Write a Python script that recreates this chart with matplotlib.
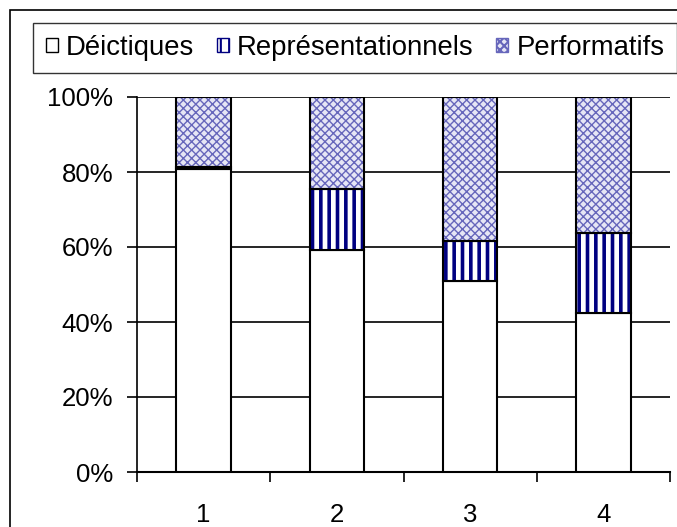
import numpy as np
import matplotlib.pyplot as plt
from matplotlib.patches import Patch, Rectangle

plt.rcParams["font.family"] = ["Liberation Sans", "DejaVu Sans"]
plt.rcParams["font.size"] = 18.5

categories = ["1", "2", "3", "4"]
deictiques = [80.8, 59.2, 51.0, 42.4]
representationnels = [0.6, 16.3, 10.5, 21.3]
performatifs = [18.6, 24.5, 38.5, 36.3]
series_names = ["Déictiques", "Représentationnels", "Performatifs"]
y_ticks = [0, 20, 40, 60, 80, 100]

fig = plt.figure(figsize=(6.77, 5.27), dpi=100)
ax = fig.add_axes([137 / 677, 55 / 527, 533 / 677, 375 / 527])

x = np.arange(len(categories))
width = 0.41

b1 = np.array(deictiques)
b2 = b1 + np.array(representationnels)

# fills first (hatch colour = edgecolor), outlines on top
ax.bar(x, deictiques, width, color="white", edgecolor="black", linewidth=1.5, zorder=3)

plt.rcParams["hatch.linewidth"] = 2.6
ax.bar(x, representationnels, width, bottom=b1, color="white",
       edgecolor="#000080", hatch="||", linewidth=0, zorder=3)
ax.bar(x, representationnels, width, bottom=b1, color="none",
       edgecolor="black", linewidth=1.5, zorder=4)

plt.rcParams["hatch.linewidth"] = 1.0
ax.bar(x, performatifs, width, bottom=b2, color="#e6e6f5",
       edgecolor="#6666bb", hatch="xxxx", linewidth=0, zorder=3)
ax.bar(x, performatifs, width, bottom=b2, color="none",
       edgecolor="black", linewidth=1.5, zorder=4)

ax.set_ylim(0, 100)
ax.set_xlim(-0.5, len(categories) - 0.5)
ax.set_yticks(y_ticks)
ax.set_yticklabels([f"{t}%" for t in y_ticks])
ax.yaxis.grid(True, color="black", linewidth=1.2, zorder=0)
ax.set_axisbelow(True)

# x ticks between categories, labels centered under bars
ax.set_xticks(np.arange(len(categories) + 1) - 0.5)
ax.set_xticklabels([])
ax.set_xticks(x, minor=True)
ax.set_xticklabels(categories, minor=True)
ax.tick_params(axis="x", which="minor", length=0, pad=22)
ax.tick_params(axis="x", which="major", length=7, width=1.2)
ax.tick_params(axis="y", length=7, width=1.2, pad=10)

for side in ["top", "right"]:
    ax.spines[side].set_visible(False)
ax.spines["left"].set_linewidth(1.2)
ax.spines["bottom"].set_linewidth(1.5)

# legend
plt.rcParams["hatch.linewidth"] = 1.5
handles = [
    Patch(facecolor="white", edgecolor="black", linewidth=1),
    Patch(facecolor="white", edgecolor="#000080", hatch="||", linewidth=1),
    Patch(facecolor="#e6e6f5", edgecolor="#6666bb", hatch="xxxx", linewidth=1),
]
leg = fig.legend(handles, series_names, loc="center", ncol=3,
                 bbox_to_anchor=(355 / 677, 1 - 48 / 527),
                 frameon=True, fancybox=False, edgecolor="black",
                 handlelength=0.45, handleheight=0.4, handletextpad=0.3,
                 columnspacing=0.8, borderpad=0.45, fontsize=19.8)
leg.get_frame().set_linewidth(1.0)

# outer chart border
fig.patches.append(Rectangle((10 / 677, -0.1), 1.2, 1 - 10 / 527 + 0.1,
                             transform=fig.transFigure, fill=False,
                             edgecolor="black", linewidth=1.2))

fig.savefig("out.png", dpi=100)
